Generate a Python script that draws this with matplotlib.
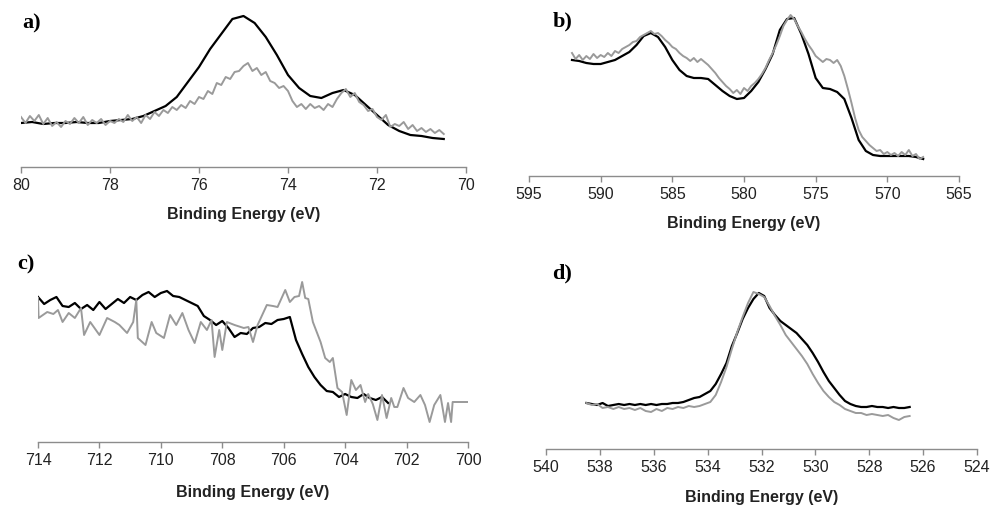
# XPS spectra, four panels (a-d), black and grey traces
import numpy as np
import matplotlib
matplotlib.use('Agg')
import matplotlib.pyplot as plt

# ---------------
# Data (intensity in arbitrary units)

# a) binding energy 80 -> 70.5 eV
a_black_E = np.arange(80.0, 70.49, -0.25)
a_black = [44, 45, 43, 44, 44, 45, 44, 44, 46, 47,
           48, 51, 56, 61, 70, 85, 100, 118, 133, 148,
           151, 144, 130, 112, 92, 79, 71, 69, 74, 77,
           72, 62, 52, 42, 36, 32, 31, 29, 28]
a_grey_E = np.arange(80.0, 70.49, -0.1)
a_grey = [50, 44, 51, 46, 52, 43, 49, 41, 45, 40,
          46, 43, 49, 44, 50, 42, 47, 44, 48, 42,
          46, 44, 48, 45, 52, 46, 50, 44, 52, 48,
          55, 51, 57, 54, 60, 57, 62, 59, 66, 63,
          70, 68, 76, 73, 84, 82, 90, 88, 95, 96,
          101, 104, 96, 99, 92, 95, 86, 84, 79, 81,
          76, 66, 60, 63, 58, 63, 59, 61, 57, 63,
          60, 68, 74, 78, 70, 74, 65, 62, 56, 58,
          50, 47, 52, 40, 43, 41, 45, 38, 42, 36,
          39, 35, 38, 34, 37, 33]

# b) binding energy 592 -> 567.5 eV
b_black_E = np.arange(592.0, 567.49, -0.5)
b_black = [116, 115, 113, 112, 112, 114, 116, 120, 124, 131,
           140, 143, 139, 129, 116, 106, 100, 98, 98, 97,
           91, 85, 80, 77, 78, 85, 94, 107, 122, 146,
           157, 158, 142, 122, 98, 88, 87, 84, 77, 58,
           36, 25, 21, 20, 20, 20, 20, 20, 19, 17]
b_grey_E = np.arange(592.0, 567.49, -0.25)
b_grey = [123, 117, 121, 116, 120, 117, 122, 118, 121, 119,
          123, 120, 125, 123, 127, 129, 131, 134, 135, 139,
          141, 143, 145, 142, 143, 140, 136, 133, 129, 127,
          123, 120, 118, 115, 118, 114, 117, 114, 111, 107,
          103, 98, 94, 90, 87, 83, 86, 82, 88, 85,
          90, 93, 97, 102, 108, 116, 123, 131, 140, 150,
          156, 161, 157, 150, 144, 137, 131, 126, 120, 117,
          114, 117, 116, 113, 116, 110, 100, 87, 73, 58,
          46, 39, 35, 31, 28, 25, 26, 22, 24, 21,
          23, 20, 24, 21, 26, 20, 22, 17, 19]

# c) binding energy 714 -> 700 eV
c_black_E = np.arange(714.0, 702.59, -0.2)
c_black = [145, 138, 142, 145, 136, 135, 139, 133, 137, 132,
           140, 133, 138, 143, 139, 145, 142, 147, 150, 145,
           149, 151, 146, 145, 142, 139, 136, 126, 122, 117,
           121, 114, 105, 109, 108, 114, 115, 119, 118, 122,
           123, 125, 102, 88, 75, 65, 57, 51, 50, 45,
           48, 45, 44, 48, 44, 42, 45, 39]
c_grey_E = [714.0, 713.98, 713.7, 713.5, 713.35, 713.2, 713.0, 712.8, 712.6, 712.5,
            712.3, 712.0, 711.75, 711.5, 711.35, 711.1, 710.9, 710.8, 710.75, 710.5,
            710.3, 710.15, 709.9, 709.7, 709.5, 709.3, 709.1, 708.9, 708.7, 708.5,
            708.35, 708.25, 708.1, 708.0, 707.85, 707.6, 707.3, 707.15, 707.0, 706.85,
            706.55, 706.35, 706.2, 705.95, 705.8, 705.65, 705.5, 705.4, 705.3, 705.2,
            705.05, 704.8, 704.65, 704.5, 704.4, 704.25, 704.1, 703.95, 703.8, 703.65,
            703.5, 703.35, 703.25, 703.1, 702.95, 702.8, 702.65, 702.5, 702.4, 702.3,
            702.1, 701.95, 701.75, 701.55, 701.4, 701.25, 701.1, 700.9, 700.75, 700.65,
            700.55, 700.5, 700.0]
c_grey = [144, 124, 130, 128, 132, 120, 129, 124, 134, 107,
          120, 107, 124, 120, 117, 109, 120, 142, 104, 97,
          120, 109, 104, 127, 117, 129, 112, 99, 120, 112,
          122, 85, 112, 92, 120, 117, 114, 115, 100, 117,
          137, 136, 135, 152, 140, 145, 146, 160, 144, 143,
          120, 100, 84, 80, 84, 54, 50, 27, 62, 52,
          57, 40, 48, 38, 22, 47, 24, 44, 35, 35,
          54, 44, 40, 47, 37, 20, 37, 47, 20, 39,
          20, 40, 40]

# d) binding energy 538.5 -> 526.5 eV
d_E = np.arange(538.5, 526.49, -0.2)
d_black = [46, 45, 44, 46, 43, 44, 45, 44, 45, 44,
           45, 44, 45, 44, 45, 45, 46, 46, 47, 49,
           51, 52, 55, 58, 65, 75, 86, 103, 116, 130,
           141, 150, 156, 153, 141, 134, 128, 124, 120, 116,
           110, 104, 96, 87, 77, 68, 61, 54, 48, 45,
           43, 42, 42, 43, 42, 42, 41, 42, 41, 41,
           42]
d_grey = [46, 44, 45, 41, 42, 40, 42, 40, 41, 39,
          41, 38, 37, 40, 38, 41, 40, 42, 41, 43,
          42, 43, 45, 47, 54, 67, 82, 100, 117, 132,
          146, 157, 155, 152, 143, 133, 124, 114, 107, 100,
          93, 85, 75, 66, 58, 52, 47, 44, 40, 38,
          36, 36, 34, 35, 34, 33, 34, 31, 29, 32,
          33]

# ---------------
# Plot

W, H = 991, 507
fig = plt.figure(figsize=(W / 100, H / 100), dpi=100)

def box(left, right, spine, top):
    # pixel box -> figure fraction
    return [left / W, (H - spine) / H, (right - left) / W, (spine - top) / H]

panels = [
    ('a)', box(21, 466, 167, 10), (80, 70), np.arange(80, 69, -2), 157, (22, 23), 10,
     a_black_E, a_black, a_grey_E, a_grey),
    ('b)', box(529, 959, 176, 10), (595, 565), np.arange(595, 564, -5), 166, (553, 21), 10,
     b_black_E, b_black, b_grey_E, b_grey),
    ('c)', box(38, 468, 442, 275), (714, 700), np.arange(714, 699, -2), 167, (17, 264), 12,
     c_black_E, c_black, c_grey_E, c_grey),
    ('d)', box(546, 977, 449, 275), (540, 524), np.arange(540, 523, -2), 174, (552, 273), 11,
     d_E, d_black, d_E, d_grey),
]

spine_col = '#8c8c8c'

for lab, rect, xl, ticks, ytop, lpos, lpad, xb, yb, xg, yg in panels:
    ax = fig.add_axes(rect)
    ax.plot(xb, yb, color='black', lw=1.6, zorder=2)
    ax.plot(xg, yg, color='#9a9a9a', lw=1.4, zorder=3)
    ax.set_xlim(*xl)
    ax.set_ylim(0, ytop)
    ax.set_xticks(ticks)
    ax.set_yticks([])
    for s in ['top', 'right', 'left']:
        ax.spines[s].set_visible(False)
    ax.spines['bottom'].set_color(spine_col)
    ax.spines['bottom'].set_linewidth(1.0)
    ax.tick_params(axis='x', direction='out', length=4, width=1.0, color=spine_col,
                   pad=4, labelsize=11.5, labelcolor='#222222')
    for t in ax.get_xticklabels():
        t.set_fontfamily('Liberation Sans')
    ax.set_xlabel('Binding Energy (eV)', fontsize=11.5, fontweight='bold',
                  fontfamily='Liberation Sans', color='#222222', labelpad=lpad)
    ax.patch.set_alpha(0)

    fig.text(lpos[0] / W, 1 - lpos[1] / H, lab, fontsize=16, fontweight='bold',
             fontfamily='Liberation Serif', ha='left', va='center')

fig.savefig('out.png', dpi=100)
